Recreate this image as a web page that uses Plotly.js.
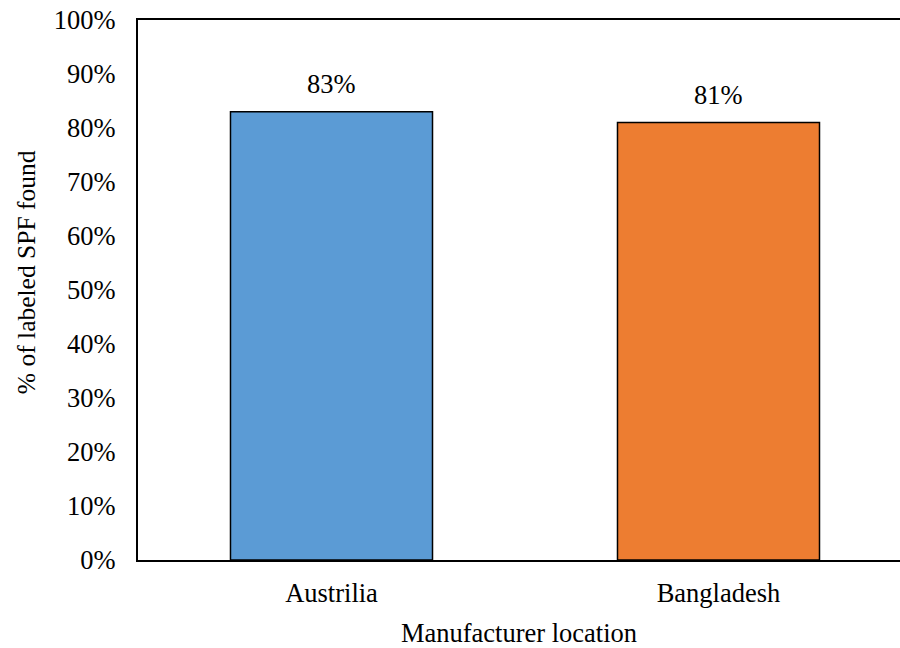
<!DOCTYPE html>
<html>
<head>
<meta charset="utf-8">
<script src="https://cdn.plot.ly/plotly-3.0.1.min.js"></script>
<style>
  html, body { margin: 0; padding: 0; background: #fff; }
  #chart { width: 900px; height: 648px; }
</style>
</head>
<body>
<div id="chart"></div>
<script>
// Share of products where the labeled SPF was found, by manufacturer location
const locations = ["Austrilia", "Bangladesh"];
const spfFound = [83, 81];
const barColors = ["#5B9BD5", "#ED7D31"];
const yTickVals = [0, 10, 20, 30, 40, 50, 60, 70, 80, 90, 100];
const yTickText = yTickVals.map(v => v + "%");
const xTitle = "Manufacturer location";
const yTitle = "% of labeled SPF found";

const serif = "'Liberation Serif', 'Times New Roman', serif";
const fs = 26.5;

const trace = {
  type: "bar",
  x: [0, 1],
  y: spfFound,
  width: 0.522,
  marker: { color: barColors, line: { color: "#000", width: 1.5 } },
  hoverinfo: "skip"
};

// value labels above each bar
const labels = spfFound.map((v, i) => ({
  x: i, y: v, xref: "x", yref: "y",
  text: v + "%", showarrow: false,
  yanchor: "bottom", yshift: 11,
  font: { family: serif, size: fs, color: "#000" }
}));

// vertical axis title, placed as a rotated annotation
labels.push({
  xref: "paper", yref: "paper",
  x: 0, y: 0.533, xshift: -112,
  xanchor: "center", yanchor: "middle",
  text: yTitle, textangle: -90, showarrow: false,
  font: { family: serif, size: 25.5, color: "#000" }
});

const layout = {
  width: 900, height: 648,
  margin: { l: 138, r: 0, t: 20, b: 88 },
  paper_bgcolor: "#fff", plot_bgcolor: "#fff",
  showlegend: false,
  bargap: 0,
  font: { family: serif, size: fs, color: "#000" },
  xaxis: {
    range: [-0.5, 1.469],
    tickvals: [0, 1],
    ticktext: locations,
    showgrid: false, zeroline: false,
    showline: true, linecolor: "#000", linewidth: 2, mirror: true,
    ticks: "", ticklen: 0,
    ticklabelstandoff: 8,
    tickfont: { family: serif, size: fs, color: "#000" },
    title: { text: xTitle, font: { family: serif, size: fs, color: "#000" }, standoff: 22 }
  },
  yaxis: {
    range: [0, 100],
    tickvals: yTickVals,
    ticktext: yTickText,
    showgrid: false, zeroline: false,
    showline: true, linecolor: "#000", linewidth: 2,
    ticks: "", ticklen: 0,
    ticklabelstandoff: 15,
    tickfont: { family: serif, size: fs, color: "#000" }
  },
  annotations: labels
};

Plotly.newPlot("chart", [trace], layout, { displayModeBar: false, staticPlot: true });
</script>
</body>
</html>
